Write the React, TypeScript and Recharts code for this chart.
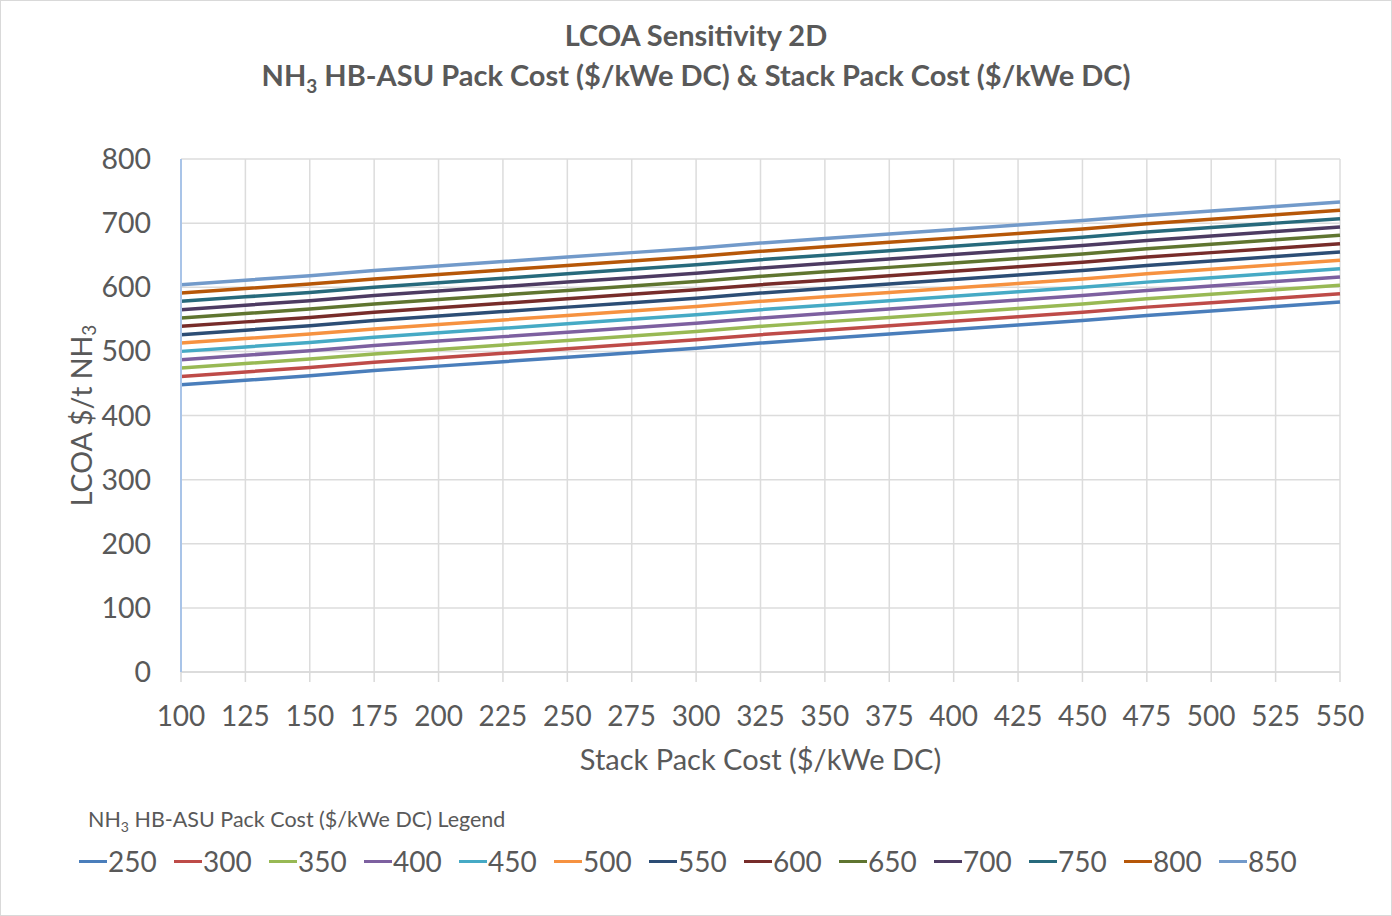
import React from 'react';
import { LineChart, Line, XAxis, YAxis, CartesianGrid, Legend } from 'recharts';

// Stack pack cost ($/kWe DC) along the x axis
const stackCost = [100, 125, 150, 175, 200, 225, 250, 275, 300, 325, 350, 375, 400, 425, 450, 475, 500, 525, 550];

// LCOA ($/t NH3) for each NH3 HB-ASU pack cost
const lcoa250 = [448, 455, 462, 470, 477, 484, 491, 498, 505, 513, 520, 527, 534, 541, 548, 556, 563, 570, 577];
const lcoa300 = [461, 468, 475, 483, 490, 497, 504, 511, 518, 526, 533, 540, 547, 554, 561, 569, 576, 583, 590];
const lcoa350 = [474, 481, 488, 496, 503, 510, 517, 524, 531, 539, 546, 553, 560, 567, 574, 582, 589, 596, 603];
const lcoa400 = [487, 494, 501, 509, 516, 523, 530, 537, 544, 552, 559, 566, 573, 580, 587, 595, 602, 609, 616];
const lcoa450 = [500, 507, 514, 522, 529, 536, 543, 550, 557, 565, 572, 579, 586, 593, 600, 608, 615, 622, 629];
const lcoa500 = [513, 520, 527, 535, 542, 549, 556, 563, 570, 578, 585, 592, 599, 606, 613, 621, 628, 635, 642];
const lcoa550 = [526, 533, 540, 548, 555, 562, 569, 576, 583, 591, 598, 605, 612, 619, 626, 634, 641, 648, 655];
const lcoa600 = [539, 546, 553, 561, 568, 575, 582, 589, 596, 604, 611, 618, 625, 632, 639, 647, 654, 661, 668];
const lcoa650 = [552, 559, 566, 574, 581, 588, 595, 602, 609, 617, 624, 631, 638, 645, 652, 660, 667, 674, 681];
const lcoa700 = [565, 572, 579, 587, 594, 601, 608, 615, 622, 630, 637, 644, 651, 658, 665, 673, 680, 687, 694];
const lcoa750 = [578, 585, 592, 600, 607, 614, 621, 628, 635, 643, 650, 657, 664, 671, 678, 686, 693, 700, 707];
const lcoa800 = [591, 598, 605, 613, 620, 627, 634, 641, 648, 656, 663, 670, 677, 684, 691, 699, 706, 713, 720];
const lcoa850 = [604, 611, 618, 626, 633, 640, 647, 654, 661, 669, 676, 683, 690, 697, 704, 712, 719, 726, 733];

const xTicks = stackCost;
const yTicks = [0, 100, 200, 300, 400, 500, 600, 700, 800];

const series = [
  { name: '250', values: lcoa250, color: '#4a7ebb' },
  { name: '300', values: lcoa300, color: '#be4b48' },
  { name: '350', values: lcoa350, color: '#98b954' },
  { name: '400', values: lcoa400, color: '#7d60a0' },
  { name: '450', values: lcoa450, color: '#46aac5' },
  { name: '500', values: lcoa500, color: '#f69240' },
  { name: '550', values: lcoa550, color: '#2c4d75' },
  { name: '600', values: lcoa600, color: '#772c2a' },
  { name: '650', values: lcoa650, color: '#5f7530' },
  { name: '700', values: lcoa700, color: '#4d3b62' },
  { name: '750', values: lcoa750, color: '#276a7c' },
  { name: '800', values: lcoa800, color: '#b65708' },
  { name: '850', values: lcoa850, color: '#729aca' },
];

const data = stackCost.map((x, i) => {
  const row: Record<string, number> = { x };
  series.forEach((s) => { row[s.name] = s.values[i]; });
  return row;
});

const FONT = 'Lato, "Open Sans", sans-serif';
const TEXT = '#595959';

const YTitle = ({ viewBox }: any) => {
  const cx = 80;
  const cy = viewBox.y + viewBox.height / 2;
  return (
    <text x={cx} y={cy} transform={`rotate(-90 ${cx} ${cy})`} textAnchor="middle"
      dominantBaseline="central" fill={TEXT} fontSize={28.5} fontFamily={FONT}>
      LCOA $/t NH<tspan fontSize={19} dy={7}>3</tspan>
    </text>
  );
};

const renderLegend = () => (
  <div style={{ fontFamily: FONT, color: TEXT, textAlign: 'left' }}>
    <div style={{ fontSize: 21.5, marginLeft: 87, height: 30, marginTop: 2 }}>
      NH<sub style={{ fontSize: 14 }}>3</sub> HB-ASU Pack Cost ($/kWe DC) Legend
    </div>
    <div style={{ display: 'flex', marginLeft: 78, marginTop: 8 }}>
      {series.map((s) => (
        <div key={s.name} style={{ width: 95, display: 'flex', alignItems: 'center', fontSize: 28 }}>
          <span style={{ display: 'inline-block', width: 28, height: 3, background: s.color, marginRight: 1 }} />
          {s.name}
        </div>
      ))}
    </div>
  </div>
);

export default function App() {
  return (
    <div style={{ position: 'absolute', left: 0, top: 0, width: 1392, height: 916, background: '#fff',
      border: '1px solid #d9d9d9', boxSizing: 'border-box', fontFamily: FONT }}>
      <div style={{ position: 'absolute', top: 14, width: '100%', textAlign: 'center', color: TEXT,
        fontWeight: 700, fontSize: 29, lineHeight: '40px' }}>
        <div>LCOA Sensitivity 2D</div>
        <div>NH<sub style={{ fontSize: 19 }}>3</sub> HB-ASU Pack Cost ($/kWe DC) &amp; Stack Pack Cost ($/kWe DC)</div>
      </div>
      <LineChart width={1390} height={914} data={data}
        margin={{ top: 158, right: 51, bottom: 183, left: 80 }}
        style={{ position: 'absolute', left: 0, top: 0 }}>
        <CartesianGrid stroke="#dcdcdc" strokeWidth={1.5} />
        <XAxis dataKey="x" type="number" domain={[100, 550]} ticks={xTicks} interval={0}
          axisLine={{ stroke: '#d9d9d9', strokeWidth: 1.5 }} tickLine={{ stroke: '#d9d9d9', strokeWidth: 1.5 }}
          tickSize={10} tickMargin={24} height={60}
          tick={{ fill: TEXT, fontSize: 28, fontFamily: FONT }}
          label={{ value: 'Stack Pack Cost ($/kWe DC)', position: 'insideBottom', offset: -38,
            fill: TEXT, fontSize: 29, fontFamily: FONT }} />
        <YAxis type="number" domain={[0, 800]} ticks={yTicks} width={100}
          axisLine={{ stroke: '#a9c4e8', strokeWidth: 2 }} tickLine={false} tickMargin={24}
          tick={{ fill: TEXT, fontSize: 28.5, fontFamily: FONT }}
          label={<YTitle />} />
        <Legend layout="horizontal" verticalAlign="middle" align="center"
          wrapperStyle={{ top: 803, left: 0, width: 1390 }} content={renderLegend} />
        {series.map((s) => (
          <Line key={s.name} dataKey={s.name} name={s.name} stroke={s.color} strokeWidth={3.5}
            dot={false} isAnimationActive={false} />
        ))}
      </LineChart>
    </div>
  );
}
